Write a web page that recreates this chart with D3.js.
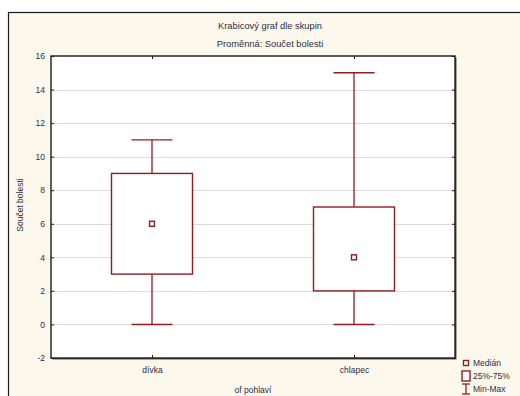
<!DOCTYPE html>
<html>
<head>
<meta charset="utf-8">
<script src="https://cdn.jsdelivr.net/npm/d3@7"></script>
<style>
  html, body { margin: 0; padding: 0; background: #ffffff; }
  svg { display: block; font-family: "Liberation Sans", Arial, sans-serif; }
</style>
</head>
<body>
<svg id="chart" width="520" height="396"></svg>
<script>
// Groups and their five-number summaries
const groups = ["dívka", "chlapec"];
const minVals = [0, 0];
const q1Vals = [3, 2];
const medianVals = [6, 4];
const q3Vals = [9, 7];
const maxVals = [11, 15];
const yTicks = [-2, 0, 2, 4, 6, 8, 10, 12, 14, 16];
const legendLabels = ["Medián", "25%-75%", "Min-Max"];

const boxes = groups.map((g, i) => ({
  group: g, min: minVals[i], q1: q1Vals[i], median: medianVals[i], q3: q3Vals[i], max: maxVals[i]
}));

const svg = d3.select("#chart");
const W = 520, H = 396;
const plot = { left: 51, top: 56, right: 455, bottom: 358 };
const red = "#921c22";
const textColor = "#2c2c44";

// Outer panel
svg.append("rect")
  .attr("x", 8.5).attr("y", 12.5)
  .attr("width", W).attr("height", H)
  .attr("fill", "#fdf8ec").attr("stroke", "#1a1a1a").attr("stroke-width", 1.2);

// Titles
svg.append("text").attr("x", 270).attr("y", 29).attr("text-anchor", "middle")
  .attr("font-size", 9.3).attr("fill", textColor).text("Krabicový graf dle skupin");
svg.append("text").attr("x", 270).attr("y", 47).attr("text-anchor", "middle")
  .attr("font-size", 9.3).attr("fill", textColor).text("Proměnná: Součet bolesti");

const x = d3.scalePoint().domain(groups).range([plot.left, plot.right]).padding(0.5);
const y = d3.scaleLinear().domain([-2, 16]).range([plot.bottom, plot.top]);

// Plot background with a slight shadow on right/bottom
svg.append("rect")
  .attr("x", plot.left + 1.5).attr("y", plot.top + 1.5)
  .attr("width", plot.right - plot.left).attr("height", plot.bottom - plot.top)
  .attr("fill", "#555");
svg.append("rect")
  .attr("x", plot.left).attr("y", plot.top)
  .attr("width", plot.right - plot.left).attr("height", plot.bottom - plot.top)
  .attr("fill", "#ffffff");

// Horizontal gridlines
svg.append("g").selectAll("line")
  .data(yTicks.filter(t => t > -2 && t < 16))
  .join("line")
  .attr("x1", plot.left).attr("x2", plot.right)
  .attr("y1", d => Math.round(y(d)) + 0.5).attr("y2", d => Math.round(y(d)) + 0.5)
  .attr("stroke", "#dcdcdc").attr("stroke-width", 1.2);

// Left axis (plain hyphen for negatives)
const yAxis = d3.axisLeft(y).tickValues(yTicks).tickSize(-3).tickPadding(6).tickFormat(d => String(d));
const gy = svg.append("g").attr("transform", `translate(${plot.left},0)`).call(yAxis);
gy.select(".domain").remove();
gy.selectAll(".tick line").attr("stroke", "#222");
gy.selectAll(".tick text").attr("font-size", 8.5).attr("fill", textColor)
  .attr("font-family", "Liberation Sans, Arial, sans-serif");

// Right axis ticks
const gyr = svg.append("g").attr("transform", `translate(${plot.right},0)`)
  .call(d3.axisRight(y).tickValues(yTicks).tickSize(-3).tickFormat(""));
gyr.select(".domain").remove();
gyr.selectAll(".tick line").attr("stroke", "#222");

// Bottom axis
const gx = svg.append("g").attr("transform", `translate(0,${plot.bottom})`)
  .call(d3.axisBottom(x).tickSize(-3).tickPadding(9));
gx.select(".domain").remove();
gx.selectAll(".tick line").attr("stroke", "#222");
gx.selectAll(".tick text").attr("font-size", 8.5).attr("fill", textColor)
  .attr("font-family", "Liberation Sans, Arial, sans-serif");

// Top axis ticks
const gxt = svg.append("g").attr("transform", `translate(0,${plot.top})`)
  .call(d3.axisTop(x).tickSize(-3).tickFormat(""));
gxt.select(".domain").remove();
gxt.selectAll(".tick line").attr("stroke", "#222");

// Plot frame
svg.append("rect")
  .attr("x", plot.left).attr("y", plot.top)
  .attr("width", plot.right - plot.left).attr("height", plot.bottom - plot.top)
  .attr("fill", "none").attr("stroke", "#1a1a1a").attr("stroke-width", 1.4);

// Axis titles
svg.append("text").attr("x", 253).attr("y", 393).attr("text-anchor", "middle")
  .attr("font-size", 8.5).attr("fill", textColor).text("of pohlaví");
svg.append("text")
  .attr("transform", `translate(23,${(plot.top + plot.bottom) / 2 - 2}) rotate(-90)`)
  .attr("text-anchor", "middle").attr("font-size", 8.5).attr("fill", textColor)
  .text("Součet bolesti");

// Box plots
const boxW = 81, capW = 41, medS = 5;
const bg = svg.append("g").selectAll("g").data(boxes).join("g")
  .attr("transform", d => `translate(${x(d.group)},0)`);

bg.append("line").attr("x1", 0).attr("x2", 0)
  .attr("y1", d => y(d.max)).attr("y2", d => y(d.q3))
  .attr("stroke", red).attr("stroke-width", 1.3);
bg.append("line").attr("x1", 0).attr("x2", 0)
  .attr("y1", d => y(d.q1)).attr("y2", d => y(d.min))
  .attr("stroke", red).attr("stroke-width", 1.3);
bg.append("line").attr("x1", -capW / 2).attr("x2", capW / 2)
  .attr("y1", d => y(d.max)).attr("y2", d => y(d.max))
  .attr("stroke", red).attr("stroke-width", 1.4);
bg.append("line").attr("x1", -capW / 2).attr("x2", capW / 2)
  .attr("y1", d => y(d.min)).attr("y2", d => y(d.min))
  .attr("stroke", red).attr("stroke-width", 1.4);
bg.append("rect")
  .attr("x", -boxW / 2).attr("width", boxW)
  .attr("y", d => y(d.q3)).attr("height", d => y(d.q1) - y(d.q3))
  .attr("fill", "#ffffff").attr("stroke", red).attr("stroke-width", 1.4);
bg.append("rect")
  .attr("x", -medS / 2).attr("width", medS)
  .attr("y", d => y(d.median) - medS / 2).attr("height", medS)
  .attr("fill", "#ffffff").attr("stroke", red).attr("stroke-width", 1.4);

// Legend
const lg = svg.append("g");
const lx = 466;
const ly = [363, 376, 389];
lg.append("rect").attr("x", lx - 2.5).attr("y", ly[0] - 2.5).attr("width", 5).attr("height", 5)
  .attr("fill", "#fff").attr("stroke", red).attr("stroke-width", 1.4);
lg.append("rect").attr("x", lx - 4).attr("y", ly[1] - 5).attr("width", 8).attr("height", 10)
  .attr("fill", "#fff").attr("stroke", red).attr("stroke-width", 1.4);
lg.append("line").attr("x1", lx).attr("x2", lx).attr("y1", ly[2] - 5).attr("y2", ly[2] + 5)
  .attr("stroke", red).attr("stroke-width", 1.3);
lg.append("line").attr("x1", lx - 4).attr("x2", lx + 4).attr("y1", ly[2] - 5).attr("y2", ly[2] - 5)
  .attr("stroke", red).attr("stroke-width", 1.3);
lg.append("line").attr("x1", lx - 4).attr("x2", lx + 4).attr("y1", ly[2] + 5).attr("y2", ly[2] + 5)
  .attr("stroke", red).attr("stroke-width", 1.3);
lg.selectAll("text").data(legendLabels).join("text")
  .attr("x", lx + 7).attr("y", (d, i) => ly[i] + 3)
  .attr("font-size", 8.5).attr("fill", textColor).text(d => d);
</script>
</body>
</html>
